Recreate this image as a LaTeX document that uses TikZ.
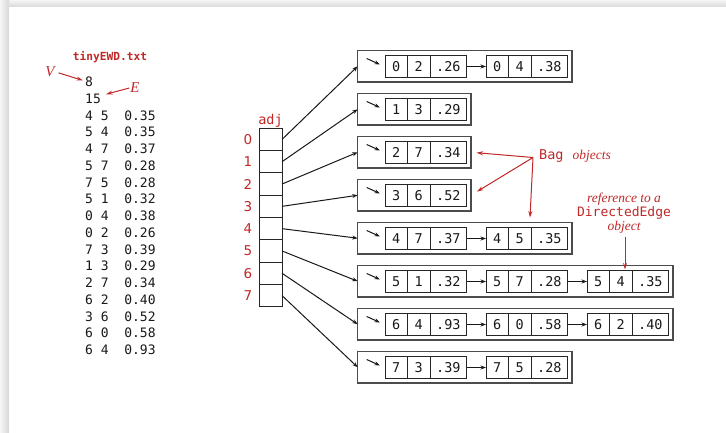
\documentclass[tikz,border=0pt]{standalone}
\usepackage{fontspec}
\setmainfont{Liberation Serif}
\setsansfont{DejaVu Sans}
\setmonofont{DejaVu Sans Mono}
\usetikzlibrary{arrows.meta,calc}
\definecolor{bookred}{RGB}{192,40,40}
\tikzset{
  cellbox/.style={draw=black!85, line width=0.9pt, minimum height=22pt, inner sep=0pt, outer sep=0pt,
    anchor=west, text=black!90, font=\fontsize{13.5}{13.5}\selectfont\ttfamily},
  bagbox/.style={draw=black!70, line width=1.1pt, minimum height=31.5pt, inner sep=0pt, outer sep=0pt, anchor=north west},
  adjcell/.style={draw=black!85, line width=0.9pt, minimum width=23pt, minimum height=22.3pt, inner sep=0pt, outer sep=0pt, anchor=north west},
  ptr/.style={line width=1pt, black!90, -{Stealth[length=5.5pt,width=4pt]}},
  redptr/.style={draw=bookred, line width=1pt, -{Stealth[length=6.5pt,width=4pt]}},
  listtxt/.style={anchor=base west, inner sep=0pt, font=\fontsize{13}{13}\selectfont\ttfamily, text=black!90},
  idx/.style={text=bookred, font=\fontsize{13.5}{13.5}\selectfont\sffamily, inner sep=0pt},
  redlbl/.style={text=bookred, inner sep=0pt, font=\fontsize{13.5}{13.5}\selectfont},
}
\newcommand\mkedgecell[6]{%
  \node[cellbox,minimum width=22.3pt] (#1a) at (#2,#3) {#4};
  \node[cellbox,minimum width=22.7pt] (#1b) at (#1a.east) {#5};
  \node[cellbox,minimum width=36.7pt] (#1c) at (#1b.east) {#6};}
\newcommand\lrow[2]{\node[listtxt] (r#1) at (85,{86.7+16.75*#1}) {#2};}
\begin{document}
\begin{tikzpicture}[x=1pt,y=-1pt]
\useasboundingbox (0,0) rectangle (726,433);
\fill[white] (0,0) rectangle (726,433);
\shade[top color=black!4, bottom color=black!15] (0,0) rectangle (726,7);
\shade[left color=black!4, right color=black!15] (0,0) rectangle (9,433);

% file listing
\node[anchor=base, inner sep=0pt, text=bookred, font=\fontsize{11.2}{11.2}\selectfont\ttfamily\bfseries] (title) at (110,60.7) {tinyEWD.txt};
\lrow{0}{8}
\lrow{1}{15}
\lrow{2}{4 5\ \ 0.35}
\lrow{3}{5 4\ \ 0.35}
\lrow{4}{4 7\ \ 0.37}
\lrow{5}{5 7\ \ 0.28}
\lrow{6}{7 5\ \ 0.28}
\lrow{7}{5 1\ \ 0.32}
\lrow{8}{0 4\ \ 0.38}
\lrow{9}{0 2\ \ 0.26}
\lrow{10}{7 3\ \ 0.39}
\lrow{11}{1 3\ \ 0.29}
\lrow{12}{2 7\ \ 0.34}
\lrow{13}{6 2\ \ 0.40}
\lrow{14}{3 6\ \ 0.52}
\lrow{15}{6 0\ \ 0.58}
\lrow{16}{6 4\ \ 0.93}

\node[text=bookred, inner sep=1pt, font=\fontsize{15}{15}\selectfont\itshape] (V) at (50,72) {V};
\node[text=bookred, inner sep=1pt, font=\fontsize{15}{15}\selectfont\itshape] (E) at (135,88) {E};
\draw[redptr, shorten <=3pt] (V.east) -- ($(r0.west)+(-2,-1.5)$);
\draw[redptr] (E.west) -- ($(r1.north east)+(5,0.5)$);

% adj array
\node[redlbl, anchor=base, font=\fontsize{13.5}{13.5}\selectfont\ttfamily] (adjlbl) at (270.5,124.5) {adj};
\foreach \k in {0,...,7} {
  \node[adjcell] (adj\k) at (259,{128.3+22.3*\k}) {};
  \node[idx] (ix\k) at (248,{139.45+22.3*\k}) {\k};
}

% bags
\node[bagbox, minimum width=214.3pt] (bag0) at (357.7,50.5) {};
\mkedgecell{e00}{385}{66.5}{0}{2}{.26}
\mkedgecell{e01}{486}{66.5}{0}{4}{.38}
\draw[ptr] (e00c) -- (e01a);

\node[bagbox, minimum width=113.3pt] (bag1) at (357.7,93.5) {};
\mkedgecell{e10}{385}{109.5}{1}{3}{.29}

\node[bagbox, minimum width=113.3pt] (bag2) at (357.7,136.5) {};
\mkedgecell{e20}{385}{152.5}{2}{7}{.34}

\node[bagbox, minimum width=113.3pt] (bag3) at (357.7,179.5) {};
\mkedgecell{e30}{385}{195.5}{3}{6}{.52}

\node[bagbox, minimum width=214.3pt] (bag4) at (357.7,222.5) {};
\mkedgecell{e40}{385}{238.5}{4}{7}{.37}
\mkedgecell{e41}{486}{238.5}{4}{5}{.35}
\draw[ptr] (e40c) -- (e41a);

\node[bagbox, minimum width=315.3pt] (bag5) at (357.7,265.5) {};
\mkedgecell{e50}{385}{281.5}{5}{1}{.32}
\mkedgecell{e51}{486}{281.5}{5}{7}{.28}
\mkedgecell{e52}{587}{281.5}{5}{4}{.35}
\draw[ptr] (e50c) -- (e51a);
\draw[ptr] (e51c) -- (e52a);

\node[bagbox, minimum width=315.3pt] (bag6) at (357.7,308.5) {};
\mkedgecell{e60}{385}{324.5}{6}{4}{.93}
\mkedgecell{e61}{486}{324.5}{6}{0}{.58}
\mkedgecell{e62}{587}{324.5}{6}{2}{.40}
\draw[ptr] (e60c) -- (e61a);
\draw[ptr] (e61c) -- (e62a);

\node[bagbox, minimum width=214.3pt] (bag7) at (357.7,351.5) {};
\mkedgecell{e70}{385}{367.5}{7}{3}{.39}
\mkedgecell{e71}{486}{367.5}{7}{5}{.28}
\draw[ptr] (e70c) -- (e71a);

\foreach \k in {0,...,7} {
  \draw[ptr] (adj\k.east) -- (bag\k.west);
  \draw[ptr] ($(bag\k.north west)+(9,8)$) -- ($(bag\k.north west)+(22.3,14)$);
}

% Bag objects label
\node[redlbl, anchor=base west] (baglbl) at (539,159.5) {{\ttfamily Bag}\hspace{9pt}{\itshape objects}};
\coordinate (bagsrc) at (533,157.5);
\coordinate (bagtip) at (530,217.5);
\draw[redptr, shorten >=5.5pt] (bagsrc) -- (bag2.east);
\draw[redptr, shorten >=7pt] (bagsrc) -- (bag3.east);
\draw[redptr] (bagsrc) -- (bagtip);

% reference label
\node[redlbl, anchor=base, font=\fontsize{13.5}{13.5}\selectfont\itshape] (ref1) at (624,202) {reference to a};
\node[redlbl, anchor=base, font=\fontsize{13}{13}\selectfont\ttfamily] (ref2) at (624,216.5) {DirectedEdge};
\node[redlbl, anchor=base, font=\fontsize{13.5}{13.5}\selectfont\itshape] (ref3) at (624,230.5) {object};
\coordinate (refsrc) at (625,236.5);
\coordinate (reftip) at (625,269.5);
\draw[redptr] (refsrc) -- (reftip);
\end{tikzpicture}
\end{document}
